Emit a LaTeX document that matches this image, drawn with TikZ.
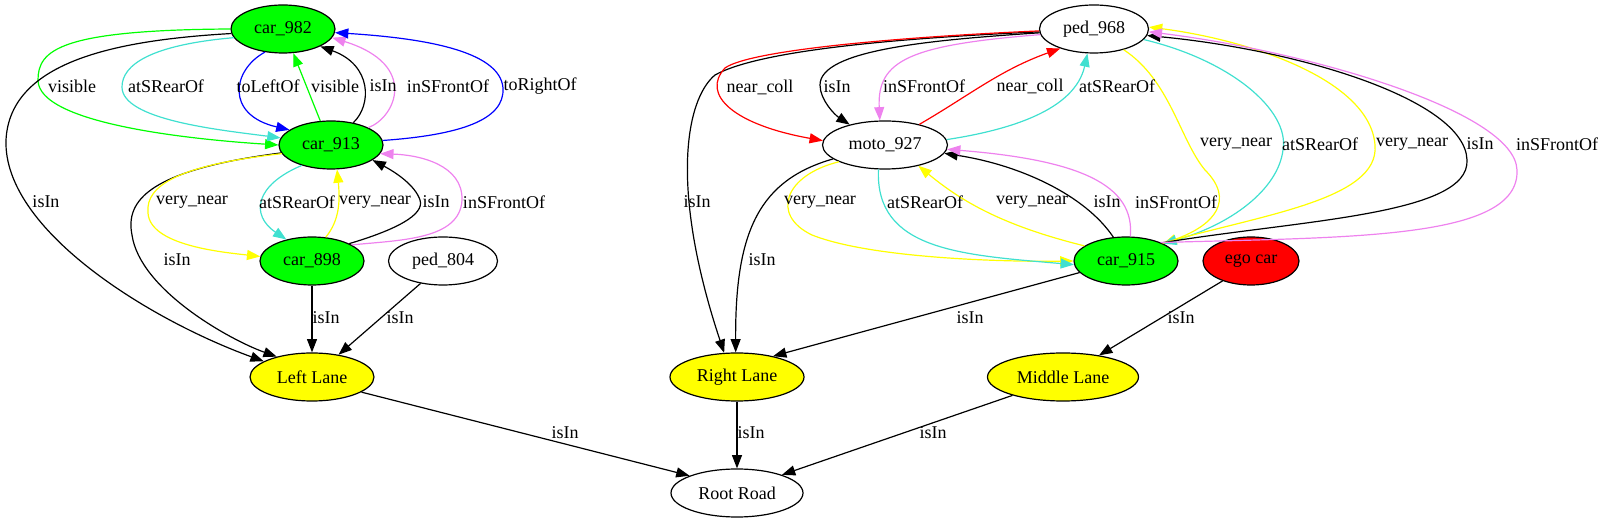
\documentclass[tikz,border=0pt]{standalone}
\usepackage{fontspec}
\setmainfont{Liberation Serif}
\usetikzlibrary{shapes.geometric,arrows.meta}
\definecolor{gvgreen}{RGB}{0,255,0}
\definecolor{gvyellow}{RGB}{255,255,0}
\definecolor{gvred}{RGB}{255,0,0}
\definecolor{gvturq}{RGB}{64,224,208}
\definecolor{gvviolet}{RGB}{238,130,238}
\definecolor{gvblue}{RGB}{0,0,255}
\tikzset{
  gnode/.style={ellipse,draw=black,line width=0.9pt,inner sep=0pt,minimum height=36pt,font=\fontsize{13.5}{16}\selectfont},
  carn/.style={gnode,fill=gvgreen,minimum width=78pt},
  lanen/.style={gnode,fill=gvyellow},
  lbl/.style={inner sep=0pt,font=\fontsize{13.5}{16}\selectfont},
  ar/.style={-{Triangle[length=10pt,width=7.5pt]},line width=0.9pt},
}
\begin{document}
\begin{tikzpicture}[x=0.75pt,y=-0.75pt]
\useasboundingbox (0,0) rectangle (1604,523);
% nodes
\node[carn] (c982) at (283,29) {car\_982};
\node[carn] (c913) at (331,145) {car\_913};
\node[carn] (c898) at (312,261) {car\_898};
\node[gnode,minimum width=81.75pt] (p804) at (443,261) {ped\_804};
\node[lanen,minimum width=93pt] (ll) at (312,377) {Left Lane};
\node[lanen,minimum width=100.5pt] (rl) at (737,377) {Right Lane};
\node[lanen,minimum width=113.25pt] (ml) at (1063,377) {Middle Lane};
\node[gnode,minimum width=99pt] (rr) at (737,493) {Root Road};
\node[gnode,minimum width=81.75pt] (p968) at (1094,29) {ped\_968};
\node[gnode,minimum width=93.75pt] (moto) at (885,145) {moto\_927};
\node[carn] (c915) at (1126,261) {car\_915};
\node[gnode,fill=gvred,minimum width=72pt] (ego) at (1251,261) {ego car};

% left cluster edges
\draw[ar,gvgreen] (c982.180) .. controls (60,30) and (38,50) .. (38,80) .. controls (38,125) and (200,140) .. (c913.180);
\draw[ar,black] (c982.185) .. controls (120,40) and (10,60) .. (6,140) .. controls (3,230) and (150,320) .. (ll.162);
\draw[ar,gvturq] (c982.190) .. controls (150,45) and (122,65) .. (122,87) .. controls (122,120) and (220,130) .. (c913.172);
\draw[ar,gvblue] (c982.232) .. controls (232,70) and (225,115) .. (c913.160);
\draw[ar,gvgreen] (c913.114) -- (c982.-67);
\draw[ar,black] (c913.45) .. controls (372,105) and (372,65) .. (c982.-25);
\draw[ar,gvviolet] (c913.25) .. controls (395,118) and (420,65) .. (c982.-10);
\draw[ar,gvblue] (c913.5) .. controls (460,135) and (505,120) .. (503,88) .. controls (500,50) and (420,38) .. (c982.-4);
\draw[ar,black] (c913.189) .. controls (150,170) and (125,200) .. (132,235) .. controls (140,290) and (230,340) .. (ll.150);
\draw[ar,gvyellow] (c913.190) .. controls (180,165) and (145,185) .. (148,213) .. controls (150,245) and (220,252) .. (c898.175);
\draw[ar,gvturq] (c913.215) .. controls (255,185) and (250,215) .. (c898.140);
\draw[ar,gvyellow] (c898.60) .. controls (340,220) and (340,200) .. (c913.-76);
\draw[ar,black] (c898.25) .. controls (395,230) and (425,215) .. (420,200) .. controls (415,185) and (395,172) .. (c913.-20);
\draw[ar,gvviolet] (c898.22) .. controls (400,240) and (460,240) .. (462,200) .. controls (463,165) and (420,155) .. (c913.-10);
\draw[ar,black] (c898.south) -- (ll.north);
\draw[ar,black] (p804.225) -- (ll.40);
\draw[ar,black] (ll.-17) -- (rr.160);

% right cluster edges
\draw[ar,black] (p968.183) .. controls (900,38) and (760,50) .. (715,75) .. controls (685,100) and (670,190) .. (rl.118);
\draw[ar,gvred] (p968.182) .. controls (900,37) and (750,50) .. (725,68) .. controls (700,95) and (735,125) .. (moto.176);
\draw[ar,black] (p968.184) .. controls (930,40) and (820,50) .. (820,85) .. controls (820,100) and (835,115) .. (moto.150);
\draw[ar,gvviolet] (p968.186) .. controls (910,45) and (877,60) .. (moto.102);
\draw[ar,gvred] (moto.31) .. controls (970,95) and (1000,70) .. (p968.210);
\draw[ar,gvturq] (moto.5) .. controls (1010,130) and (1075,110) .. (p968.255);
\draw[ar,gvyellow] (moto.200) .. controls (785,175) and (770,215) .. (812,235) .. controls (870,258) and (1000,262) .. (c915.180);
\draw[ar,gvturq] (moto.255) .. controls (875,250) and (960,255) .. (c915.184);
\draw[ar,black] (moto.195) .. controls (760,180) and (735,230) .. (rl.93);
\draw[ar,gvyellow] (c915.160) .. controls (1000,225) and (960,200) .. (moto.-32);
\draw[ar,black] (c915.118) .. controls (1085,195) and (1020,165) .. (moto.-8);
\draw[ar,gvviolet] (c915.80) .. controls (1135,185) and (1080,160) .. (moto.-4);
\draw[ar,gvyellow] (p968.-35) .. controls (1170,80) and (1180,140) .. (1205,170) .. controls (1235,200) and (1215,225) .. (c915.25);
\draw[ar,gvturq] (p968.-12) .. controls (1230,60) and (1290,110) .. (1283,150) .. controls (1278,190) and (1230,225) .. (c915.25);
\draw[ar,gvyellow] (c915.26) .. controls (1260,215) and (1380,200) .. (1375,145) .. controls (1370,80) and (1250,40) .. (p968.2);
\draw[ar,black] (c915.27) .. controls (1300,220) and (1470,215) .. (1467,160) .. controls (1465,100) and (1300,50) .. (p968.-7);
\draw[ar,gvviolet] (c915.28) .. controls (1350,237) and (1520,240) .. (1517,170) .. controls (1515,110) and (1300,50) .. (p968.-3);
\draw[ar,black] (c915.194) -- (rl.30);
\draw[ar,black] (ego.215) -- (ml.31);
\draw[ar,black] (ml.200) -- (rr.22);
\draw[ar,black] (rl.south) -- (rr.north);

% labels
\node[lbl] (l1) at (72,86) {visible};
\node[lbl] (l2) at (166,86) {atSRearOf};
\node[lbl] (l3) at (268,86) {toLeftOf};
\node[lbl] (l4) at (335,86) {visible};
\node[lbl] (l5) at (383,86) {isIn};
\node[lbl] (l6) at (448,86) {inSFrontOf};
\node[lbl] (l7) at (540,86) {toRightOf};
\node[lbl] (l8) at (46,202) {isIn};
\node[lbl] (l9) at (192,202) {very\_near};
\node[lbl] (l10) at (297,202) {atSRearOf};
\node[lbl] (l11) at (375,202) {very\_near};
\node[lbl] (l12) at (436,202) {isIn};
\node[lbl] (l13) at (504,202) {inSFrontOf};
\node[lbl] (l14) at (177,260) {isIn};
\node[lbl] (l15) at (326,318) {isIn};
\node[lbl] (l16) at (400,318) {isIn};
\node[lbl] (l17) at (565,433) {isIn};
\node[lbl] (l18) at (760,87) {near\_coll};
\node[lbl] (l19) at (837,87) {isIn};
\node[lbl] (l20) at (924,86) {inSFrontOf};
\node[lbl] (l21) at (1030,86) {near\_coll};
\node[lbl] (l22) at (1117,86) {atSRearOf};
\node[lbl] (l23) at (697,202) {isIn};
\node[lbl] (l24) at (820,202) {very\_near};
\node[lbl] (l25) at (925,202) {atSRearOf};
\node[lbl] (l26) at (1032,202) {very\_near};
\node[lbl] (l27) at (1107,202) {isIn};
\node[lbl] (l28) at (1176,202) {inSFrontOf};
\node[lbl] (l29) at (762,260) {isIn};
\node[lbl] (l30) at (1236,144) {very\_near};
\node[lbl] (l31) at (1320,144) {atSRearOf};
\node[lbl] (l32) at (1412,144) {very\_near};
\node[lbl] (l33) at (1480,144) {isIn};
\node[lbl] (l34) at (1557,144) {inSFrontOf};
\node[lbl] (l35) at (970,318) {isIn};
\node[lbl] (l36) at (1181,318) {isIn};
\node[lbl] (l37) at (751,433) {isIn};
\node[lbl] (l38) at (933,433) {isIn};
\end{tikzpicture}
\end{document}
